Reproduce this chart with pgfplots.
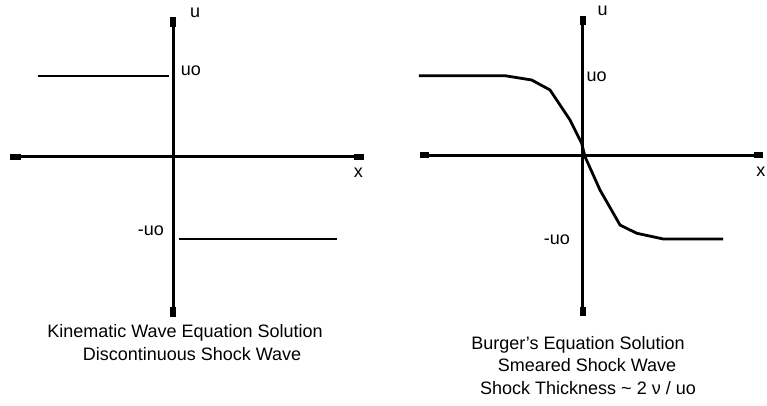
\documentclass[border=0pt]{standalone}
\usepackage{fontspec}
\setmainfont{Liberation Sans}
\usepackage{pgfplots}
\pgfplotsset{compat=1.18}

% one unit = u0; both panels drawn at 81bp per unit
\pgfplotsset{
  shockpanel/.style={
    x=81bp, y=81bp,
    anchor=origin,
    axis lines=middle,
    axis line style={-, line width=3bp, black},
    ticks=none,
    enlargelimits=false,
    clip=false,
  },
  cap/.style={black, line width=6bp, line cap=butt, forget plot},
  sol/.style={black, line width=2.8bp, line join=round},
}
\tikzset{lbl/.style={font=\fontsize{18bp}{22bp}\selectfont, inner sep=0pt}}

\begin{document}
\begin{tikzpicture}

% ---- kinematic wave: discontinuous shock ----
\begin{axis}[shockpanel, at={(173bp,249bp)},
  xmin=-2.012, xmax=2.358, ymin=-1.975, ymax=1.728]
\addplot[cap] coordinates {(0,1.728) (0,1.605)};
\addplot[cap] coordinates {(0,-1.852) (0,-1.975)};
\addplot[cap] coordinates {(-2.012,0) (-1.877,0)};
\addplot[cap] coordinates {(2.235,0) (2.358,0)};
\addplot[sol] coordinates {(-1.67,1.0) (-0.05,1.0)};
\addplot[sol] coordinates {(0.074,-1.012) (2.02,-1.012)};
\node[lbl, anchor=base] at (axis cs:0.272,1.716) {u};
\node[lbl, anchor=base] at (axis cs:0.222,1.012) {uo};
\node[lbl, anchor=base] at (axis cs:2.290,-0.256) {x};
\node[lbl, anchor=base] at (axis cs:-0.272,-0.963) {-uo};
\end{axis}

% ---- Burgers: smeared shock ----
\begin{axis}[shockpanel, at={(582.5bp,250.5bp)},
  xmin=-2.006, xmax=2.228, ymin=-1.981, ymax=1.722]
\addplot[cap] coordinates {(0,1.722) (0,1.611)};
\addplot[cap] coordinates {(0,-1.870) (0,-1.981)};
\addplot[cap] coordinates {(-2.006,0) (-1.895,0)};
\addplot[cap] coordinates {(2.117,0) (2.228,0)};
\addplot[sol] coordinates {
  (-2.02,0.985) (-0.957,0.985) (-0.627,0.932) (-0.401,0.809)
  (-0.154,0.438) (-0.010,0.150) (0.031,-0.015) (0.216,-0.426)
  (0.463,-0.858) (0.669,-0.960) (0.998,-1.031) (1.735,-1.031)};
\node[lbl, anchor=base] at (axis cs:0.247,1.726) {u};
\node[lbl, anchor=base] at (axis cs:0.173,0.911) {uo};
\node[lbl, anchor=base east] at (axis cs:2.260,-0.265) {x};
\node[lbl, anchor=base] at (axis cs:-0.315,-1.093) {-uo};
\end{axis}

% captions
\node[lbl, anchor=base] at (185bp,68.3bp) {Kinematic Wave Equation Solution};
\node[lbl, anchor=base] at (192bp,45bp) {Discontinuous Shock Wave};
\node[lbl, anchor=base] at (578bp,56.7bp) {Burger's Equation Solution};
\node[lbl, anchor=base] at (587bp,34.3bp) {Smeared Shock Wave};
\node[lbl, anchor=base] at (588bp,12bp) {Shock Thickness \char"007E{} 2 ν / uo};

\pgfresetboundingbox
\path[use as bounding box] (0,0) rectangle (767bp,406bp);
\end{tikzpicture}
\end{document}
